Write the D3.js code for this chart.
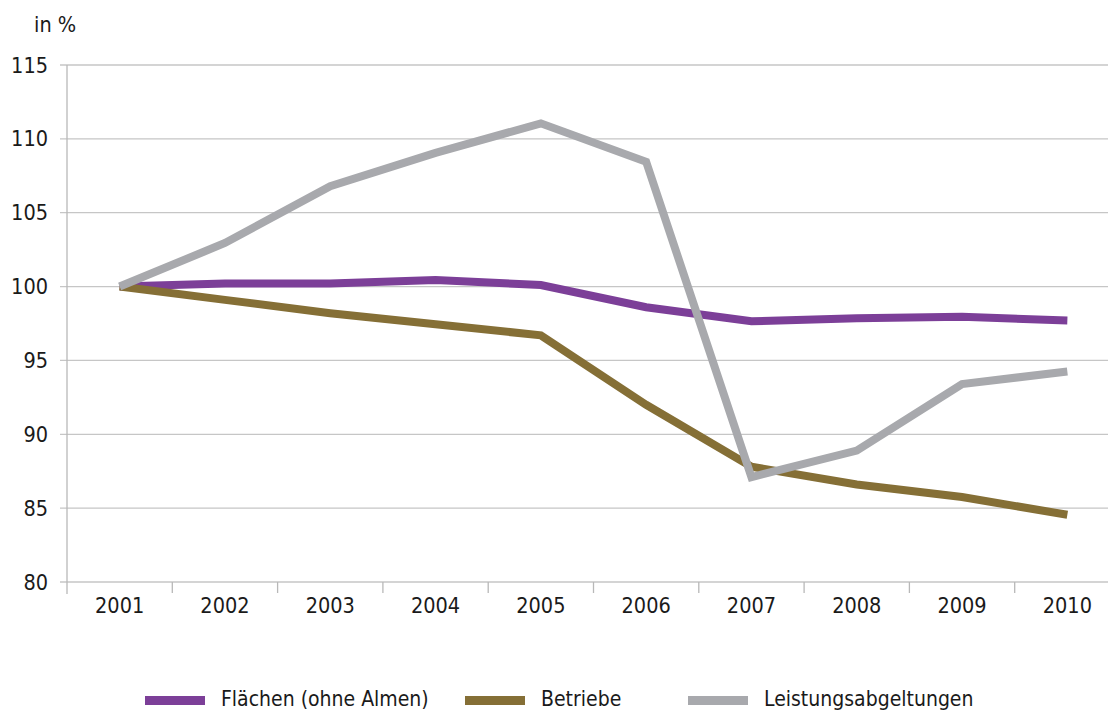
<!DOCTYPE html>
<html><head><meta charset="utf-8">
<script src="https://cdn.jsdelivr.net/npm/d3@7"></script>
<style>body{margin:0;background:#fff}svg text{font-family:"DejaVu Sans Condensed","DejaVu Sans",sans-serif;fill:#1a1a1a}</style>
</head><body><svg id="c" width="1108" height="711"></svg>
<script>
const years = ["2001","2002","2003","2004","2005","2006","2007","2008","2009","2010"];
const flaechen = [100, 100.2, 100.2, 100.45, 100.1, 98.6, 97.65, 97.85, 97.95, 97.7];
const betriebe = [100, 99.1, 98.2, 97.45, 96.7, 92.0, 87.8, 86.6, 85.75, 84.55];
const leistung = [100, 102.95, 106.8, 109.05, 111.05, 108.45, 87.1, 88.9, 93.4, 94.25];
const yTicks = [80, 85, 90, 95, 100, 105, 110, 115];
const seriesNames = ["Flächen (ohne Almen)", "Betriebe", "Leistungsabgeltungen"];
const seriesColors = ["#7c3f98", "#856f36", "#a8a9ad"];
const seriesData = [flaechen, betriebe, leistung];

const svg = d3.select("#c");
const L = 67, R = 1108, T = 65, B = 582;
const x = d3.scaleBand().domain(years).range([L, L + 10 * 105.3]);
const y = d3.scaleLinear().domain([80, 115]).range([B, T]);

svg.append("g").selectAll("line").data(yTicks).join("line")
  .attr("x1", L - 7).attr("x2", R).attr("y1", d => y(d)).attr("y2", d => y(d))
  .attr("stroke", "#c6c6c6").attr("stroke-width", 1.3);
svg.append("line").attr("x1", L).attr("x2", L).attr("y1", T).attr("y2", B + 12)
  .attr("stroke", "#b8b8b8").attr("stroke-width", 1.3);
svg.append("g").selectAll("line").data(years.slice(1)).join("line")
  .attr("x1", d => x(d)).attr("x2", d => x(d)).attr("y1", B).attr("y2", B + 11)
  .attr("stroke", "#b8b8b8").attr("stroke-width", 1.3);
svg.append("g").selectAll("text").data(yTicks).join("text")
  .attr("x", 48).attr("y", d => y(d) + 7.5).attr("text-anchor", "end")
  .attr("font-size", 21.5).text(d => d);
svg.append("g").selectAll("text").data(years).join("text")
  .attr("x", d => x(d) + x.bandwidth() / 2).attr("y", 613).attr("text-anchor", "middle")
  .attr("font-size", 21.5).text(d => d);
svg.append("text").attr("x", 34).attr("y", 32).attr("font-size", 21.5).text("in %");

const line = d3.line().x((d, i) => x(years[i]) + x.bandwidth() / 2).y(d => y(d));
seriesData.forEach((s, k) => {
  svg.append("path").datum(s).attr("d", line).attr("fill", "none")
    .attr("stroke", seriesColors[k]).attr("stroke-width", 8).attr("stroke-linejoin", "miter");
});
const legX = [145, 465, 688];
seriesNames.forEach((n, k) => {
  svg.append("rect").attr("x", legX[k]).attr("y", 696).attr("width", 60).attr("height", 9).attr("fill", seriesColors[k]);
  svg.append("text").attr("x", legX[k] + 76).attr("y", 706).attr("font-size", 21).text(n);
});
</script></body></html>
